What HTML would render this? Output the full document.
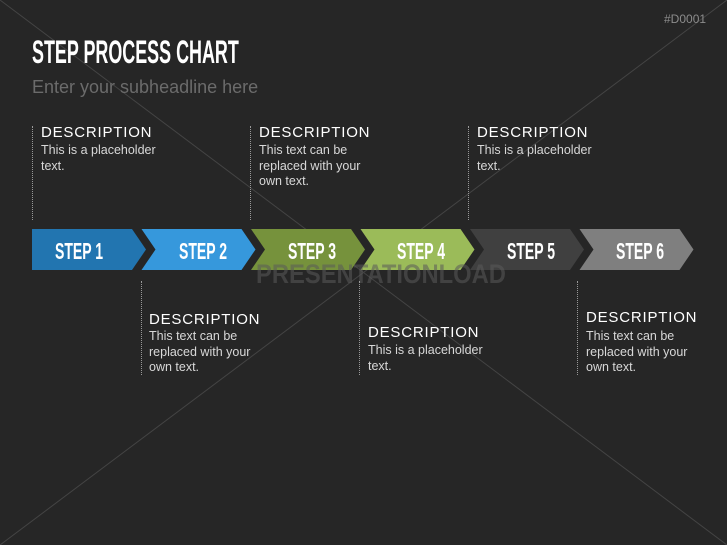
<!DOCTYPE html>
<html><head><meta charset="utf-8"><style>
body{margin:0;width:727px;height:545px;background:#262626;overflow:hidden;position:relative;font-family:"Liberation Sans",sans-serif}
.a{position:absolute;white-space:nowrap}
.cond{font-weight:bold;transform-origin:0 0}
.s{transform:scaleX(0.61);color:#fff;font-size:23px;top:238px}
.d{position:absolute;color:#fff;font-size:15px;letter-spacing:0.8px}
.t{position:absolute;color:#d8d8d8;font-size:12.5px;line-height:15.5px;white-space:nowrap}
.v{position:absolute;width:0;border-left:1px dotted #999}
</style></head><body>
<svg class="a" style="left:0;top:0" width="727" height="545">
<line x1="0" y1="0" x2="727" y2="545" stroke="#444" stroke-width="1"/>
<line x1="727" y1="0" x2="0" y2="545" stroke="#444" stroke-width="1"/>
<polygon points="32,229 132,229 146,249.5 132,270 32,270" fill="#2275b0"/>
<polygon points="141.5,229 241.5,229 255.5,249.5 241.5,270 141.5,270 155.5,249.5" fill="#3698dc"/>
<polygon points="251,229 351,229 365,249.5 351,270 251,270 265,249.5" fill="#76923c"/>
<polygon points="360.5,229 460.5,229 474.5,249.5 460.5,270 360.5,270 374.5,249.5" fill="#9bbb59"/>
<polygon points="470,229 570,229 584,249.5 570,270 470,270 484,249.5" fill="#404040"/>
<polygon points="579.5,229 679.5,229 693.5,249.5 679.5,270 579.5,270 593.5,249.5" fill="#7f7f7f"/>
</svg>
<div class="a" style="left:664px;top:12px;color:#8c8c8c;font-size:12px">#D0001</div>
<div class="a cond" style="left:32px;top:34px;color:#fff;font-size:32px;transform:scaleX(0.56)">STEP PROCESS CHART</div>
<div class="a" style="left:32px;top:77px;color:#6b6b6b;font-size:18px">Enter your subheadline here</div>

<div class="a cond s" style="left:55px">STEP 1</div>
<div class="a cond s" style="left:179px">STEP 2</div>
<div class="a cond s" style="left:288px">STEP 3</div>
<div class="a cond s" style="left:397px">STEP 4</div>
<div class="a cond s" style="left:507px">STEP 5</div>
<div class="a cond s" style="left:616px">STEP 6</div>
<div class="a cond" style="left:256px;top:259px;color:rgba(90,90,90,0.55);font-size:27px;transform:scaleX(0.88)">PRESENTATIONLOAD</div>

<div class="v" style="left:32px;top:126px;height:94px"></div>
<div class="d" style="left:41px;top:124px">DESCRIPTION</div>
<div class="t" style="left:41px;top:143px">This is a placeholder<br>text.</div>
<div class="v" style="left:250px;top:126px;height:94px"></div>
<div class="d" style="left:259px;top:124px">DESCRIPTION</div>
<div class="t" style="left:259px;top:143px">This text can be<br>replaced with your<br>own text.</div>
<div class="v" style="left:468px;top:126px;height:94px"></div>
<div class="d" style="left:477px;top:124px">DESCRIPTION</div>
<div class="t" style="left:477px;top:143px">This is a placeholder<br>text.</div>

<div class="v" style="left:141px;top:281px;height:94px"></div>
<div class="d" style="left:149px;top:311px">DESCRIPTION</div>
<div class="t" style="left:149px;top:329px">This text can be<br>replaced with your<br>own text.</div>
<div class="v" style="left:359px;top:281px;height:94px"></div>
<div class="d" style="left:368px;top:324px">DESCRIPTION</div>
<div class="t" style="left:368px;top:343px">This is a placeholder<br>text.</div>
<div class="v" style="left:577px;top:281px;height:94px"></div>
<div class="d" style="left:586px;top:309px">DESCRIPTION</div>
<div class="t" style="left:586px;top:329px">This text can be<br>replaced with your<br>own text.</div>
</body></html>
